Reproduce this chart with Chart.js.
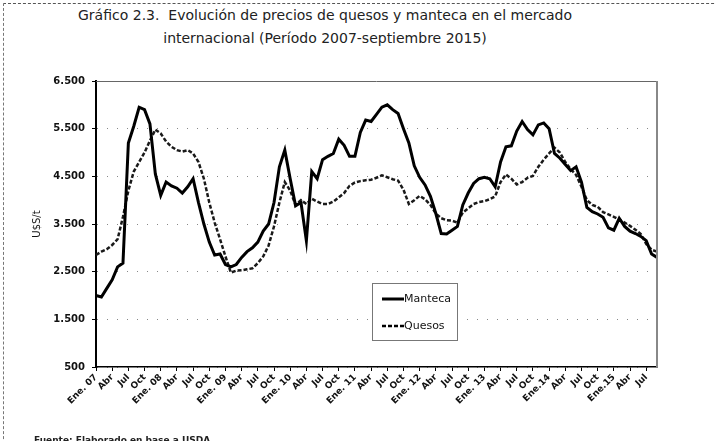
<!DOCTYPE html>
<html>
<head>
<meta charset="utf-8">
<script src="https://cdn.jsdelivr.net/npm/chart.js@4/dist/chart.umd.min.js"></script>
<style>
  html, body { margin:0; padding:0; background:#fff; }
  body { width:716px; height:441px; position:relative; overflow:hidden; font-family:"DejaVu Sans", Verdana, sans-serif; }
  #frame { position:absolute; left:3px; top:3px; width:740px; height:460px; border-top:1px dashed #555; border-left:1px dashed #777; }
  #title { position:absolute; left:0; top:4px; width:650px; text-align:center; font-size:14px; line-height:23px; color:#222; }
  #foot { position:absolute; left:34px; top:435px; font-size:9px; font-weight:bold; color:#222; }
  #wrap { position:absolute; left:0; top:0; width:716px; height:441px; }
</style>
</head>
<body>
<div id="frame"></div>
<div id="title">Gráfico 2.3.&nbsp; Evolución de precios de quesos y manteca en el mercado<br>internacional (Período 2007-septiembre 2015)</div>
<div id="wrap"><canvas id="c" width="716" height="441"></canvas></div>
<div id="foot">Fuente: Elaborado en base a USDA</div>
<script>
// Monthly categories Jan 2007 - Sep 2015
const monthNames = ['Ene','Feb','Mar','Abr','May','Jun','Jul','Ago','Sep','Oct','Nov','Dic'];
const years = ['07','08','09','10','11','12','13','14','15'];
const categories = [];
years.forEach((y, yi) => monthNames.forEach((m, mi) => {
  if (!(yi === years.length - 1 && mi > 8)) categories.push(m + ' ' + y);
}));

// Quarterly tick labels shown on the axis
const xTickLabels = [
  'Ene. 07','Abr','Jul','Oct',
  'Ene. 08','Abr','Jul','Oct',
  'Ene. 09','Abr','Jul','Oct',
  'Ene. 10','Abr','Jul','Oct',
  'Ene. 11','Abr','Jul','Oct',
  'Ene. 12','Abr','Jul','Oct',
  'Ene. 13','Abr','Jul','Oct',
  'Ene.14','Abr','Jul','Oct',
  'Ene.15','Abr','Jul'
];

const yTicks = [500, 1500, 2500, 3500, 4500, 5500, 6500];
const yTickLabels = ['500','1.500','2.500','3.500','4.500','5.500','6.500'];

// U$S/t
const manteca = [
  2000,1970,2150,2330,2600,2680,
  5200,5550,5950,5900,5600,4550,
  4100,4380,4300,4250,4150,4280,
  4450,3950,3500,3120,2850,2870,
  2650,2600,2650,2800,2920,3000,
  3120,3350,3500,3950,4700,5050,
  4450,3880,3950,3150,4600,4450,
  4850,4920,4980,5280,5150,4920,
  4920,5420,5680,5650,5800,5950,
  6000,5900,5820,5500,5200,4720,
  4480,4320,4080,3720,3300,3290,
  3370,3450,3900,4150,4350,4450,
  4480,4450,4280,4800,5120,5140,
  5450,5650,5480,5370,5580,5620,
  5500,4980,4880,4750,4620,4700,
  4380,3850,3760,3710,3640,3420,
  3370,3620,3450,3350,3300,3240,
  3150,2870,2800
];
const quesos = [
  2850,2920,2970,3060,3180,3650,
  4200,4600,4800,5000,5250,5480,
  5400,5230,5120,5050,5020,5050,
  4980,4800,4450,3950,3530,3180,
  2820,2480,2520,2530,2550,2570,
  2680,2820,3050,3450,3950,4380,
  4200,3900,4000,3920,4030,3970,
  3920,3920,3970,4060,4150,4300,
  4370,4400,4420,4430,4470,4520,
  4480,4440,4410,4220,3920,4000,
  4090,4020,3900,3720,3620,3580,
  3570,3530,3740,3830,3920,3960,
  3980,4020,4080,4380,4540,4450,
  4330,4380,4470,4510,4700,4850,
  4980,5100,5000,4800,4650,4530,
  4280,4000,3900,3860,3750,3700,
  3650,3590,3530,3460,3380,3290,
  3080,2960,2920
];

const seriesNames = ['Manteca', 'Quesos'];

const framePlugin = {
  id: 'frame',
  afterDraw(chart) {
    const {ctx, chartArea: a} = chart;
    ctx.save();
    ctx.strokeStyle = '#666';
    ctx.lineWidth = 1;
    ctx.beginPath();
    ctx.moveTo(a.left, a.top + 0.5);
    ctx.lineTo(a.right, a.top + 0.5);
    ctx.stroke();
    ctx.strokeStyle = '#888';
    ctx.lineWidth = 2;
    ctx.beginPath();
    ctx.moveTo(a.right, a.top);
    ctx.lineTo(a.right, a.bottom);
    ctx.stroke();
    // legend box
    const lx = 372, ly = 283, lw = 85, lh = 57;
    ctx.fillStyle = '#fff';
    ctx.fillRect(lx, ly, lw, lh);
    ctx.strokeStyle = '#777';
    ctx.lineWidth = 1;
    ctx.strokeRect(lx + 0.5, ly + 0.5, lw, lh);
    ctx.font = '11px "DejaVu Sans", Verdana, sans-serif';
    ctx.textBaseline = 'middle';
    ctx.fillStyle = '#111';
    const rows = [{y: 299, dash: [], w: 3}, {y: 326, dash: [4, 2], w: 2.5}];
    rows.forEach((r, i) => {
      ctx.strokeStyle = '#000';
      ctx.lineWidth = r.w;
      ctx.setLineDash(r.dash);
      ctx.beginPath();
      ctx.moveTo(382, r.y);
      ctx.lineTo(404, r.y);
      ctx.stroke();
      ctx.setLineDash([]);
      ctx.fillText(seriesNames[i], 404, r.y);
    });
    ctx.restore();
  }
};

new Chart(document.getElementById('c'), {
  type: 'line',
  data: {
    labels: categories,
    datasets: [
      { label: seriesNames[0], data: manteca, borderColor: '#000', borderWidth: 3, pointRadius: 0, tension: 0, fill: false },
      { label: seriesNames[1], data: quesos, borderColor: '#1a1a1a', borderWidth: 2.5, borderDash: [4, 2], pointRadius: 0, tension: 0, fill: false }
    ]
  },
  options: {
    responsive: false,
    animation: false,
    devicePixelRatio: 1,
    layout: { padding: { left: 0, top: 81, right: 59, bottom: 34 } },
    plugins: { legend: { display: false }, title: { display: false }, tooltip: { enabled: false } },
    scales: {
      x: {
        type: 'category',
        afterFit: (s) => { s.height = 40; },
        grid: {
          drawOnChartArea: false,
          drawTicks: true,
          tickLength: 4,
          tickColor: (c) => (c.index % 3 === 0 ? '#000' : 'rgba(0,0,0,0)'),
          tickWidth: 1
        },
        border: { display: true, color: '#000', width: 1.5 },
        ticks: {
          autoSkip: false,
          maxRotation: 45,
          minRotation: 45,
          padding: 1,
          color: '#111',
          font: { family: '"DejaVu Sans", Verdana, sans-serif', size: 9, weight: 'bold' },
          callback: (v, i) => (i % 3 === 0 ? xTickLabels[i / 3] : '')
        }
      },
      y: {
        min: 500,
        max: 6500,
        afterFit: (s) => { s.width = 96; },
        afterBuildTicks: (s) => { s.ticks = yTicks.map(v => ({ value: v })); },
        grid: {
          color: '#888',
          lineWidth: 1,
          tickLength: 4,
          tickColor: '#000',
          tickBorderDash: [],
          tickWidth: 1
        },
        border: { display: true, color: '#000', width: 2, dash: [1, 9] },
        ticks: {
          padding: 7,
          color: '#111',
          font: { family: '"DejaVu Sans", Verdana, sans-serif', size: 10, weight: 'bold' },
          callback: (v) => yTickLabels[yTicks.indexOf(v)]
        },
        title: {
          display: true,
          text: 'U$S/t',
          color: '#111',
          padding: { top: 31, bottom: 0 },
          font: { family: '"DejaVu Sans", Verdana, sans-serif', size: 10 }
        }
      }
    }
  },
  plugins: [framePlugin]
});
</script>
</body>
</html>
